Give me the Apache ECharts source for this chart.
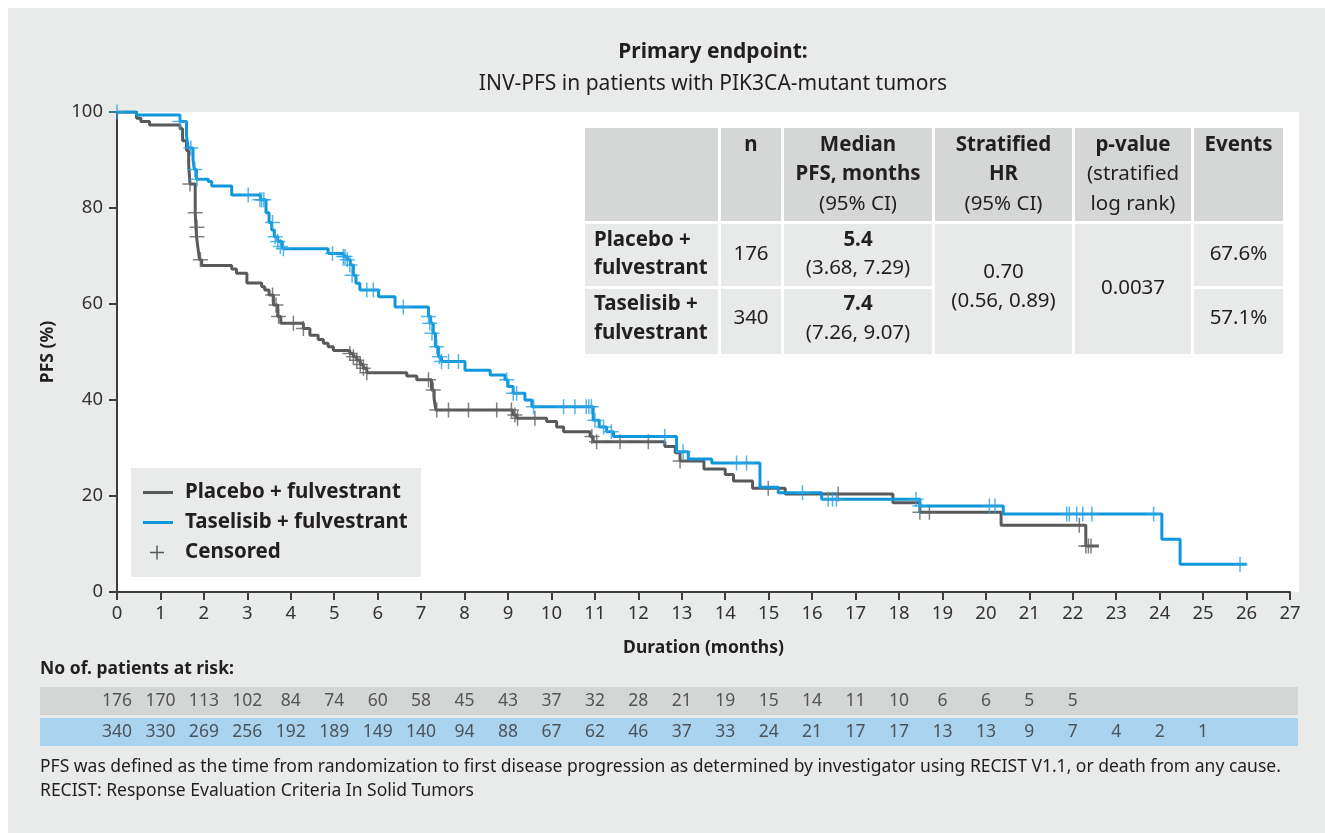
<!DOCTYPE html>
<html><head><meta charset="utf-8">
<script src="https://cdn.jsdelivr.net/npm/echarts@6/dist/echarts.min.js"></script>
<style>html,body{margin:0;padding:0;background:#fff}#c{width:1325px;height:833px}</style>
</head><body><div id="c"></div>
<script>
// ---------- DATA ----------
const placeboTime = [0,0.45,0.55,0.75,1.45,1.51,1.6,1.65,1.68,1.8,1.83,1.87,1.9,1.95,2.64,2.75,2.99,3.33,3.4,3.5,3.6,3.7,3.77,4.29,4.44,4.63,4.75,4.86,4.98,5.36,5.44,5.52,5.6,5.67,5.75,6.67,6.9,7.24,7.3,7.34,9.12,9.2,9.89,10.12,10.28,10.89,10.96,12.61,12.85,12.96,13.51,14.0,14.19,14.63,15.38,17.86,18.48,20.35,22.3,22.6];
const placeboSurv = [100,98.7,98,97.3,96.5,94,92,89,85,79,74,71.2,69.2,68,67.3,66.4,64.4,63.6,62.9,61.9,59.8,57.4,56,54.9,53.5,52.6,51.8,51.1,50.3,49.7,49,48.3,47.4,46.6,45.7,45,44.2,42.1,40.2,37.9,36.9,36.2,35.5,34.4,33.4,32.4,31.3,30.3,29,27.3,25.6,24.5,23.1,21.6,20.4,18.6,16.6,13.9,9.6,9.6];
const taselisibTime = [0,0.45,1.45,1.6,1.64,1.75,1.78,1.83,2.1,2.18,2.64,3.3,3.43,3.5,3.56,3.62,3.7,3.8,3.83,4.86,5.21,5.3,5.37,5.44,5.5,5.59,6.02,6.4,7.17,7.22,7.28,7.33,7.4,7.47,8.01,8.59,8.93,9.0,9.12,9.39,9.55,10.96,11.1,11.27,11.43,12.88,13.15,13.69,14.8,15.22,16.22,18.48,20.4,24.05,24.47,26.0];
const taselisibSurv = [100,99.4,98,95,92.5,90,88,86,85.5,84.6,82.7,81.7,79,77,75.4,74,73,72,71.5,70.5,69.9,69.2,68.1,66,64.3,62.9,61.5,59.4,57.4,56,53.9,51.1,49,48,46.2,45.2,44.2,42.8,41.4,40,38.6,35.8,34.4,33.4,32.4,29.2,27.7,26.9,21.8,20.7,19.3,17.9,16.25,11,5.8,5.8];
const placeboCensorTime = [1.68,1.8,1.84,1.84,1.92,3.58,3.66,3.72,4.06,4.29,5.36,5.44,5.52,5.6,5.67,5.75,7.17,7.28,7.36,7.63,8.09,8.74,9.08,9.16,9.22,9.62,10.93,11.04,11.58,12.23,12.96,14.99,16.6,18.48,18.7,22.15,22.3,22.36,22.42];
const placeboCensorSurv = [85,79,76,74,69.2,61.9,59.8,57.4,56,54.9,49.7,49,48.3,47.4,46.6,45.7,44.2,42.1,37.9,37.9,37.9,37.9,37.9,36.9,36.2,36.2,32.4,31.3,31.3,31.3,27.3,21.6,20.4,16.6,16.6,13.9,9.6,9.6,9.6];
const taselisibCensorTime = [0,1.45,1.7,1.79,1.84,3.02,3.29,3.33,3.38,3.58,3.64,3.7,3.76,3.83,4.96,5.21,5.25,5.3,5.36,5.41,5.75,5.9,6.59,7.17,7.2,7.25,7.36,7.42,7.47,7.63,7.86,8.97,9.12,9.2,9.59,10.28,10.54,10.8,10.86,10.92,11.0,11.2,11.38,12.61,13.03,14.26,14.49,15.78,16.37,16.47,16.56,18.39,18.48,20.08,20.21,21.86,21.92,22.09,22.23,22.44,23.86,25.85];
const taselisibCensorSurv = [100,98,92.5,88,86,82.7,81.7,81.7,81.7,77,74,73,72,71.5,70.5,69.9,69.9,69.2,68.1,66,62.9,62.9,59.4,57.4,56,53.9,51.1,49,48,48,48,44.2,41.4,41.4,38.6,38.6,38.6,38.6,38.6,38.6,35.8,34.4,33.4,32.4,29.2,26.9,26.9,20.7,19.3,19.3,19.3,19.3,17.9,17.9,17.9,16.25,16.25,16.25,16.25,16.25,16.25,5.8];

const xTicks = [0,27,1];      // min, max, interval (months)
const yTicks = [0,100,20];    // min, max, interval (%)
const riskMonths = [0,1,2,3,4,5,6,7,8,9,10,11,12,13,14,15,16,17,18,19,20,21,22,23,24,25];
const placeboRisk = [176,170,113,102,84,74,60,58,45,43,37,32,28,21,19,15,14,11,10,6,6,5,5];
const taselisibRisk = [340,330,269,256,192,189,149,140,94,88,67,62,46,37,33,24,21,17,17,13,13,9,7,4,2,1];

const seriesNames = ['Placebo + fulvestrant','Taselisib + fulvestrant','Censored'];
const titleText = 'Primary endpoint:';
const subtitleText = 'INV-PFS in patients with PIK3CA-mutant tumors';
const riskTitle = 'No of. patients at risk:';
const footnotes = ['PFS was defined as the time from randomization to first disease progression as determined by investigator using RECIST V1.1, or death from any cause.','RECIST: Response Evaluation Criteria In Solid Tumors'];

const tableHeaders = [[], [['n',1]], [['Median',1],['PFS, months',1],['(95% CI)',0]], [['Stratified',1],['HR',1],['(95% CI)',0]], [['p-value',1],['(stratified',0],['log rank)',0]], [['Events',1]]];
const armLabels = [['Placebo +','fulvestrant'],['Taselisib +','fulvestrant']];
const armN = ['176','340'];
const medianPFS = ['5.4','7.4'];
const medianCI = ['(3.68, 7.29)','(7.26, 9.07)'];
const hrText = ['0.70','(0.56, 0.89)'];
const pText = ['0.0037'];
const eventsPct = ['67.6%','57.1%'];

// ---------- STYLE / LAYOUT ----------
const F = '"Noto Sans", sans-serif';
const GRAY = '#58595b', BLUE = '#0f97dc', GRAYC = '#606163', BLUEC = '#2ba3e2';
const TXT = '#231f20';
const plusPath = 'path://M-1,-10 L1,-10 L1,-1 L10,-1 L10,1 L1,1 L1,10 L-1,10 L-1,1 L-10,1 L-10,-1 L-1,-1 Z';
const zip = (a,b) => a.map((v,i)=>[v,b[i]]);

const colE = [585,718,721,781,784,932,935,1072,1075,1191,1194,1283];
const rowE = [128,221,224,286,289,354];
const HDR = '#d5d6d6', BODY = '#e8e9e9';

const g = [];
g.push({type:'rect', shape:{x:8,y:8,width:1317,height:825}, style:{fill:'#e9eaea'}, z:-10, silent:true});
g.push({type:'rect', shape:{x:116,y:112,width:1183,height:480}, style:{fill:'#ffffff'}, z:-9, silent:true});
g.push({type:'rect', shape:{x:131,y:468,width:290,height:109}, style:{fill:'#e9eaea'}, z:-8, silent:true});
function cell(c0,c1,r0,r1,fill){ g.push({type:'rect', shape:{x:colE[c0*2],y:rowE[r0*2],width:colE[c1*2+1]-colE[c0*2],height:rowE[r1*2+1]-rowE[r0*2]}, style:{fill}, z:5, silent:true}); }
g.push({type:'rect', shape:{x:582,y:125,width:704,height:232}, style:{fill:'#fff'}, z:4, silent:true});
for (let c=0;c<6;c++) cell(c,c,0,0,HDR);
[0,1,2,5].forEach(c=>{cell(c,c,1,1,BODY); cell(c,c,2,2,BODY);});
cell(3,3,1,2,BODY); cell(4,4,1,2,BODY);
function txt(s,x,y,bold,align){ g.push({type:'text', z:6, silent:true, style:{text:s, x, y, fill:TXT, font:(bold?'bold ':'')+'20.5px '+F, textAlign:align||'center', textVerticalAlign:'middle'}}); }
const cx = c => (colE[c*2]+colE[c*2+1])/2;
const hdrY = [145,174,204];
tableHeaders.forEach((lines,c)=>lines.forEach((ln,i)=>txt(ln[0],cx(c),hdrY[i],ln[1])));
const armY = [[240,268],[304,333]];
armLabels.forEach((ls,r)=>{
  ls.forEach((s,i)=>txt(s,594,armY[r][i],true,'left'));
  txt(armN[r],cx(1),(armY[r][0]+armY[r][1])/2,false);
  txt(medianPFS[r],cx(2),armY[r][0],true);
  txt(medianCI[r],cx(2),armY[r][1],false);
  txt(eventsPct[r],cx(5),(armY[r][0]+armY[r][1])/2,false);
});
txt(hrText[0],cx(3),272,false); txt(hrText[1],cx(3),301,false);
txt(pText[0],cx(4),288,false);
g.push({type:'text', z:6, silent:true, style:{text:riskTitle, x:40, y:669, fill:TXT, font:'bold 17.5px '+F, textVerticalAlign:'middle'}});
g.push({type:'rect', shape:{x:40,y:687,width:1258,height:28}, style:{fill:'#d4d5d5'}, z:-5, silent:true});
g.push({type:'rect', shape:{x:40,y:718,width:1258,height:28}, style:{fill:'#a9d3ef'}, z:-5, silent:true});
footnotes.forEach((s,i)=>g.push({type:'text', z:6, silent:true, style:{text:s, x:40, y:767+i*24, fill:TXT, font:'17.5px '+F, textVerticalAlign:'middle'}}));

const chart = echarts.init(document.getElementById('c'), null, {renderer:'canvas'});
const riskPl = placeboRisk.map((v,i)=>[riskMonths[i],0,v]);
const riskTa = taselisibRisk.map((v,i)=>[riskMonths[i],1,v]);
const legText = {fontSize:20.5, fontWeight:'bold', color:TXT, fontFamily:F};

chart.setOption({
  animation:false,
  backgroundColor:'#ffffff',
  textStyle:{fontFamily:F},
  title:{text:titleText, subtext:subtitleText, left:708, top:37, textAlign:'center', itemGap:11,
    textStyle:{fontSize:21, fontWeight:'bold', color:TXT, fontFamily:F},
    subtextStyle:{fontSize:21, color:TXT, fontFamily:F}},
  grid:[{left:117, right:35, top:112, bottom:241, containLabel:false},
        {left:117, right:35, top:686, height:62}],
  xAxis:[{type:'value', min:xTicks[0], max:xTicks[1], interval:xTicks[2],
    name:'Duration (months)', nameLocation:'middle', nameGap:47,
    nameTextStyle:{fontWeight:'bold', fontSize:17.5, color:TXT, fontFamily:F},
    axisLine:{show:true, lineStyle:{color:'#3c3c3c', width:2}},
    axisTick:{show:true, length:8, lineStyle:{color:'#3c3c3c', width:2}},
    axisLabel:{fontSize:18.5, color:'#333', margin:12, fontFamily:F},
    splitLine:{show:false}},
    {type:'value', gridIndex:1, min:xTicks[0], max:xTicks[1], show:false}],
  yAxis:[{type:'value', min:yTicks[0], max:yTicks[1], interval:yTicks[2],
    name:'PFS (%)', nameLocation:'middle', nameGap:60, nameRotate:90,
    nameTextStyle:{fontWeight:'bold', fontSize:17.5, color:TXT, fontFamily:F},
    axisLine:{show:true, lineStyle:{color:'#3c3c3c', width:2}},
    axisTick:{show:true, length:8, lineStyle:{color:'#3c3c3c', width:2}},
    axisLabel:{fontSize:18.5, color:'#333', margin:14, fontFamily:F},
    splitLine:{show:false}},
    {type:'category', gridIndex:1, data:['Placebo','Taselisib'], inverse:true, show:false}],
  legend:[
    {data:[{name:seriesNames[0], icon:'rect'}], left:143, top:482, padding:0, itemWidth:30, itemHeight:3, z:10,
      textStyle:Object.assign({padding:[0,0,0,7]},legText), selectedMode:false},
    {data:[{name:seriesNames[1], icon:'rect'}], left:143, top:512, padding:0, itemWidth:30, itemHeight:3, z:10,
      textStyle:Object.assign({padding:[0,0,0,7]},legText), selectedMode:false},
    {data:[{name:seriesNames[2], icon:plusPath, itemStyle:{color:'#333'}}], left:150, top:542, padding:0, itemWidth:14, itemHeight:14, z:10,
      textStyle:Object.assign({padding:[0,0,0,16]},legText), selectedMode:false}
  ],
  graphic:g,
  series:[
    {name:seriesNames[0], type:'line', step:'end', data:zip(placeboTime,placeboSurv), showSymbol:false,
      lineStyle:{color:GRAY, width:3}, itemStyle:{color:GRAY}, z:3},
    {name:seriesNames[1], type:'line', step:'end', data:zip(taselisibTime,taselisibSurv), showSymbol:false,
      lineStyle:{color:BLUE, width:3}, itemStyle:{color:BLUE}, z:4},
    {name:seriesNames[2], type:'scatter', data:zip(placeboCensorTime,placeboCensorSurv), symbol:plusPath, symbolSize:15,
      itemStyle:{color:GRAYC}, z:3},
    {name:seriesNames[2], type:'scatter', data:zip(taselisibCensorTime,taselisibCensorSurv), symbol:plusPath, symbolSize:15,
      itemStyle:{color:BLUEC}, z:4},
    {type:'scatter', xAxisIndex:1, yAxisIndex:1, data:riskPl, symbolSize:0, silent:true,
      label:{show:true, position:'inside', formatter:p=>p.value[2], fontSize:17.5, color:'#333', fontFamily:F}},
    {type:'scatter', xAxisIndex:1, yAxisIndex:1, data:riskTa, symbolSize:0, silent:true,
      label:{show:true, position:'inside', formatter:p=>p.value[2], fontSize:17.5, color:'#333', fontFamily:F}}
  ]
});
</script></body></html>
